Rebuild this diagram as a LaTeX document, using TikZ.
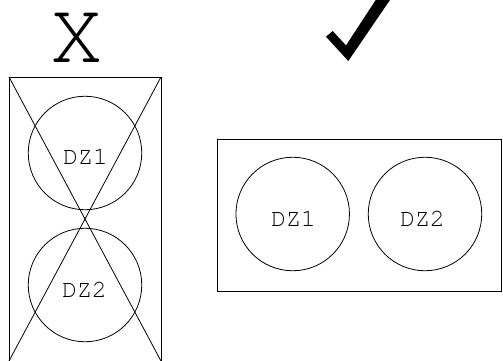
\documentclass[tikz,border=0pt]{standalone}
\usepackage{fontspec}
\newfontfamily\courfont{TeX Gyre Cursor}
\begin{document}
\begin{tikzpicture}[x=1bp,y=-1bp,
  box/.style={draw=black,line width=0.8pt},
  zone/.style={draw=black,line width=0.8pt,circle,minimum size=113.5bp,inner sep=0pt},
  lbl/.style={font=\courfont\fontsize{25}{25}\selectfont,anchor=base,inner sep=0pt},
  big/.style={font=\courfont\fontsize{88}{88}\selectfont,anchor=base,inner sep=0pt,text height=50bp,text depth=0pt}]
\useasboundingbox (0,0) rectangle (503,360);
\clip (0,0) rectangle (503,360);
% wrong layout
\node[big] (xmark) at (76.7,62.3) {X};
\coordinate (ltl) at (9,77);
\coordinate (lbr) at (161,361);
\coordinate (ltr) at (161,77);
\coordinate (lbl) at (9,361);
\draw[box] (ltl) rectangle (lbr);
\draw[box] (ltl) -- (lbr);
\draw[box] (ltr) -- (lbl);
\node[zone] (la) at (85,153) {};
\node[zone] (lb) at (85,285) {};
\node[lbl] (lat) at (85.5,164) {DZ1};
\node[lbl] (lbt) at (84.5,297.7) {DZ2};
% right layout
\fill[black] (326,36.7) -- (332.7,31) -- (346,45.4) -- (377,-2) -- (391.3,-2) -- (348.3,61) -- cycle;
\coordinate (rtl) at (217,139);
\coordinate (rbr) at (501,291);
\draw[box] (rtl) rectangle (rbr);
\node[zone] (ra) at (292.7,214) {};
\node[zone] (rb) at (425,214) {};
\node[lbl] (rat) at (293.5,226.7) {DZ1};
\node[lbl] (rbt) at (422.5,226.7) {DZ2};
\end{tikzpicture}
\end{document}
